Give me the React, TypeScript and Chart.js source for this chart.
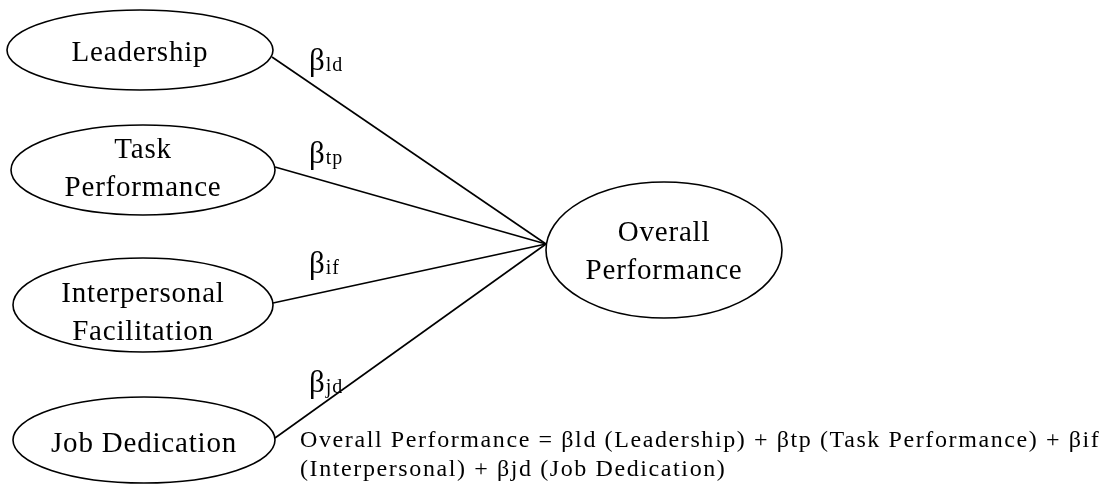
import React, { useEffect, useRef } from "react";
import { Chart, registerables } from "chart.js";

Chart.register(...registerables);

// Diagram nodes (values in the chart's own x/y units)
const nodeLines: string[][] = [
  ["Leadership"],
  ["Task", "Performance"],
  ["Interpersonal", "Facilitation"],
  ["Job Dedication"],
  ["Overall", "Performance"],
];
const nodeX = [140, 143, 143, 144, 664];
const nodeY = [50, 170, 305, 440, 250];
const nodeRx = [133, 132, 130, 131, 118];
const nodeRy = [40, 45, 47, 43, 68];
const labelShiftY = [1, -3, 6, 2, 0];

// Paths (predictor -> outcome)
const pathFromX = [272, 275, 273, 275];
const pathFromY = [57, 167, 303, 438];
const pathToX = 546;
const pathToY = 244;

// Path coefficient labels
const coefSubs = ["ld", "tp", "if", "jd"];
const coefX = [309, 309, 309, 309];
const coefY = [70, 163, 273, 392];

// Equation text
const formulaLines = [
  "Overall Performance = \u03b2ld (Leadership) + \u03b2tp (Task Performance) + \u03b2if",
  "(Interpersonal) + \u03b2jd (Job Dedication)",
];
const formulaX = 300;
const formulaY = [447, 476];

const W = 1119;
const H = 503;
const SERIF = '"Liberation Serif", "DejaVu Serif", serif';

const diagramPlugin = {
  id: "diagram",
  afterDatasetsDraw(chart: any) {
    const ctx: CanvasRenderingContext2D = chart.ctx;
    const xs = chart.scales.x;
    const ys = chart.scales.y;
    const px = (v: number) => xs.getPixelForValue(v);
    const py = (v: number) => ys.getPixelForValue(v);
    ctx.save();
    ctx.strokeStyle = "#000";
    ctx.fillStyle = "#000";
    ctx.lineWidth = 1.6;
    // ellipses
    for (let i = 0; i < nodeX.length; i++) {
      const cx = px(nodeX[i]);
      const cy = py(nodeY[i]);
      const rx = Math.abs(px(nodeX[i] + nodeRx[i]) - cx);
      const ry = Math.abs(py(nodeY[i] + nodeRy[i]) - cy);
      ctx.beginPath();
      ctx.ellipse(cx, cy, rx, ry, 0, 0, Math.PI * 2);
      ctx.stroke();
    }
    // node labels
    ctx.font = `29px ${SERIF}`;
    (ctx as any).letterSpacing = "0.8px";
    ctx.textAlign = "center";
    ctx.textBaseline = "alphabetic";
    for (let i = 0; i < nodeX.length; i++) {
      const lines = nodeLines[i];
      const gap = 38;
      const cx = px(nodeX[i]);
      const cy = py(nodeY[i]);
      const first = cy + 10 + labelShiftY[i] - ((lines.length - 1) * gap) / 2;
      lines.forEach((t, k) => ctx.fillText(t, cx, first + k * gap));
    }
    // coefficient labels
    ctx.textAlign = "left";
    for (let i = 0; i < coefSubs.length; i++) {
      const x0 = px(coefX[i]);
      const y0 = py(coefY[i]);
      ctx.font = `31px ${SERIF}`;
      (ctx as any).letterSpacing = "0px";
      ctx.fillText("\u03b2", x0, y0);
      const w = ctx.measureText("\u03b2").width;
      ctx.font = `20px ${SERIF}`;
      (ctx as any).letterSpacing = "1px";
      ctx.fillText(coefSubs[i], x0 + w + 1, y0 + 1);
    }
    // formula
    ctx.font = `24px ${SERIF}`;
    (ctx as any).letterSpacing = "1.6px";
    formulaLines.forEach((t, k) => ctx.fillText(t, px(formulaX), py(formulaY[k])));
    ctx.restore();
  },
};

export default function App() {
  const ref = useRef<HTMLCanvasElement | null>(null);
  useEffect(() => {
    if (!ref.current) return;
    const datasets: any[] = pathFromX.map((x, i) => ({
      type: "scatter",
      data: [
        { x, y: pathFromY[i] },
        { x: pathToX, y: pathToY },
      ],
      showLine: true,
      borderColor: "#000",
      borderWidth: 1.6,
      pointRadius: 0,
      fill: false,
    }));
    datasets.push({
      type: "scatter",
      data: nodeX.map((x, i) => ({ x, y: nodeY[i] })),
      pointRadius: 0,
      showLine: false,
    });
    const chart = new Chart(ref.current, {
      type: "scatter",
      data: { datasets },
      options: {
        animation: false,
        responsive: false,
        devicePixelRatio: 1,
        layout: { padding: 0 },
        plugins: {
          legend: { display: false },
          tooltip: { enabled: false },
          title: { display: false },
        },
        scales: {
          x: { type: "linear", min: 0, max: W, display: false },
          y: { type: "linear", min: 0, max: H, reverse: true, display: false },
        },
      },
      plugins: [diagramPlugin],
    });
    return () => chart.destroy();
  }, []);
  return (
    <div style={{ position: "absolute", left: 0, top: 0, width: W, height: H, background: "#fff" }}>
      <canvas ref={ref} width={W} height={H} style={{ display: "block" }} />
    </div>
  );
}
